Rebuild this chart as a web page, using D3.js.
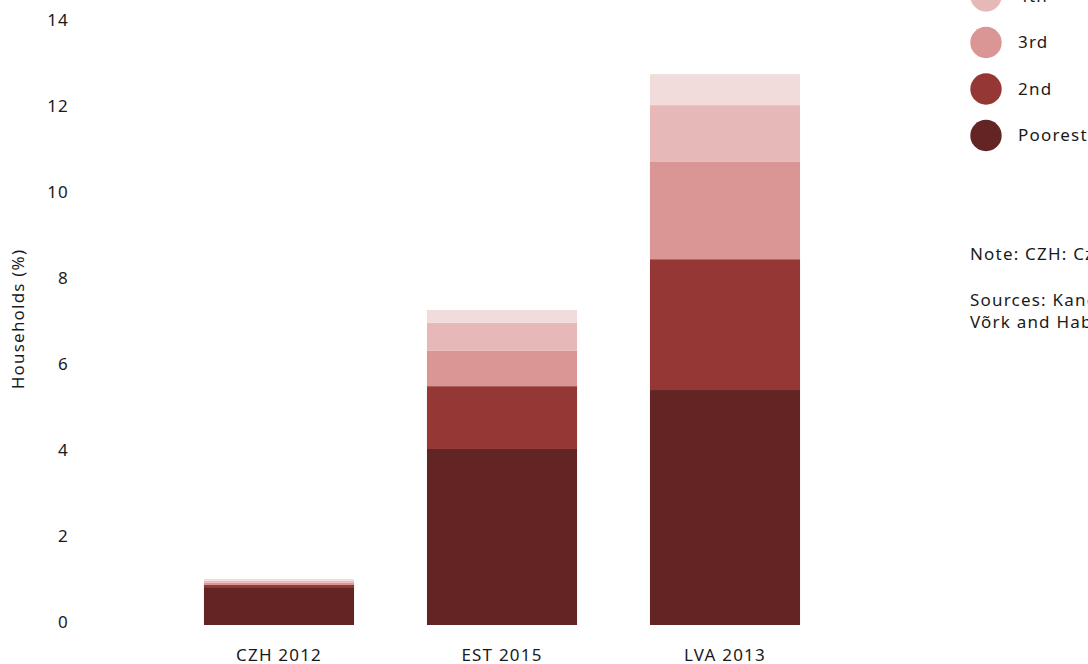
<!DOCTYPE html>
<html>
<head>
<meta charset="utf-8">
<script src="https://cdn.jsdelivr.net/npm/d3@7"></script>
<style>
  html, body { margin: 0; padding: 0; background: #fff; overflow: hidden; }
  svg { display: block; font-family: "Noto Sans", "Open Sans", sans-serif; }
  text { fill: #1a1a1a; letter-spacing: 1.2px; }
</style>
</head>
<body>
<svg id="chart" width="1088" height="664"></svg>
<script>
const categories = ["CZH 2012", "EST 2015", "LVA 2013"];
const quintiles = ["Poorest", "2nd", "3rd", "4th", "Richest"];
const poorest = [0.88, 4.09, 5.46];
const second  = [0.05, 1.46, 3.04];
const third   = [0.05, 0.82, 2.26];
const fourth  = [0.05, 0.65, 1.32];
const richest = [0.04, 0.30, 0.72];
const yTicks = [0, 2, 4, 6, 8, 10, 12, 14];
const colors = ["#632523", "#953735", "#D99694", "#E6B9B8", "#F2DCDB"];
const noteText = "Note: CZH: Czech Republic; EST: Estonia; LVA: Latvia.";
const sourceLines = ["Sources: Kandilov, Hlaváček and others", "Võrk and Habicht"];

const seriesValues = [poorest, second, third, fourth, richest];
const table = categories.map((c, i) => {
  const row = { category: c };
  quintiles.forEach((q, k) => row[q] = seriesValues[k][i]);
  return row;
});

const svg = d3.select("#chart");
const x = d3.scaleBand().domain(categories).range([167.5, 836.5])
  .paddingInner(0.327).paddingOuter(0.1635);
const y = d3.scaleLinear().domain([0, 14]).range([625, 22.5]);
const color = d3.scaleOrdinal().domain(quintiles).range(colors);

const stacked = d3.stack().keys(quintiles)(table);

svg.append("g").selectAll("g").data(stacked).join("g")
  .attr("fill", d => color(d.key))
  .selectAll("rect").data(d => d).join("rect")
  .attr("x", d => x(d.data.category))
  .attr("width", x.bandwidth())
  .attr("y", d => y(d[1]))
  .attr("height", d => y(d[0]) - y(d[1]));

// y axis
const yAxis = d3.axisLeft(y).tickValues(yTicks).tickSize(0).tickPadding(0);
const gy = svg.append("g").attr("transform", "translate(69,-2.5)").call(yAxis);
gy.select(".domain").remove();
gy.selectAll("text").attr("font-size", 17).attr("font-family", "Noto Sans").attr("fill", "#1a1a1a");

// x axis
const xAxis = d3.axisBottom(x).tickSize(0).tickPadding(0);
const gx = svg.append("g").attr("transform", "translate(0,648.5)").call(xAxis);
gx.select(".domain").remove();
gx.selectAll("text").attr("font-size", 17).attr("font-family", "Noto Sans").attr("fill", "#1a1a1a");

// y title
svg.append("text")
  .attr("transform", "translate(24,319) rotate(-90)")
  .attr("text-anchor", "middle")
  .attr("font-size", 17)
  .text("Households (%)");

// legend (richest on top)
const legendOrder = quintiles.slice().reverse();
const lg = svg.append("g").selectAll("g").data(legendOrder).join("g")
  .attr("transform", (d, i) => `translate(986,${-50.5 + i * 46.5})`);
lg.append("circle").attr("r", 15.7).attr("fill", d => color(d));
lg.append("text").attr("x", 32).attr("dy", "0.35em").attr("font-size", 17).text(d => d);

// notes
svg.append("text").attr("x", 970).attr("y", 260).attr("font-size", 17).text(noteText);
svg.append("text").attr("x", 970).attr("y", 306).attr("font-size", 17)
  .selectAll("tspan").data(sourceLines).join("tspan")
  .attr("x", 970).attr("dy", (d, i) => i === 0 ? 0 : 22).text(d => d);
</script>
</body>
</html>
